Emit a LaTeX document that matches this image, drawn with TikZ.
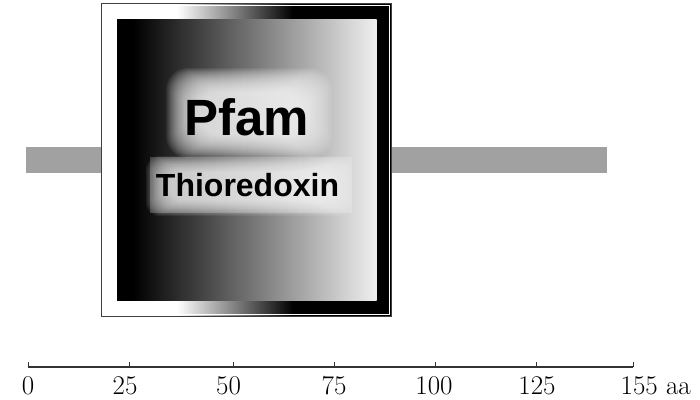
\documentclass[tikz,border=0pt]{standalone}
\usepackage{fontspec}
\newfontfamily\boxfont{Liberation Sans}
\colorlet{nearwhite}{white!94!black}
\colorlet{bargray}{black!37}
\colorlet{axisgray}{black!80}
\pgfdeclarehorizontalshading{frameshade}{100bp}{color(0bp)=(white); color(38bp)=(white); color(58bp)=(black); color(100bp)=(black)}
\pgfdeclarehorizontalshading{innershade}{100bp}{color(0bp)=(black); color(28bp)=(black); color(75bp)=(nearwhite); color(100bp)=(nearwhite)}
\tikzset{
  boxtext/.style={anchor=base, inner sep=0pt, text=black},
  axislabel/.style={anchor=base, inner sep=0pt, font=\fontsize{27}{27}\selectfont},
  tickline/.style={draw=axisgray, line width=1.5pt},
  glowstep/.style={fill=white, opacity=0.065},
}
\begin{document}
\begin{tikzpicture}[x=1pt,y=-1pt]
\useasboundingbox (0,0) rectangle (700,399);
% backbone bar
\fill[bargray] (26,147) rectangle (606.5,173);
% domain box
\shade[shading=frameshade] (101.5,3.5) rectangle (391.5,316.5);
\draw[black!75, line width=1pt] (101.5,3.5) rectangle (391.5,316.5);
\draw[white, line width=0.8pt] (103.2,5.2) rectangle (389.8,314.8);
\shade[shading=innershade] (117,19) rectangle (376.5,300.5);
% glows
\fill[white, opacity=0.2] (150,157) rectangle (352,213);
\foreach \i in {0,...,24} {
  \fill[glowstep, rounded corners=22pt] (166+\i*1.3,68+\i*1.0) rectangle (332-\i*1.3,158-\i*1.0);
}
\foreach \i in {0,...,18} {
  \fill[glowstep, rounded corners=14pt] (146+\i*1.3,156+\i*0.9) rectangle (352-\i*1.3,216-\i*0.9);
}
\node[boxtext, font=\boxfont\bfseries\fontsize{51}{51}\selectfont] (pfam) at (246.7,135) {Pfam};
\node[boxtext, font=\boxfont\bfseries\fontsize{32}{32}\selectfont] (dom) at (247.5,196.7) {Thioredoxin};
% axis
\coordinate (t0) at (28.3,367);
\coordinate (t25) at (129.3,367);
\coordinate (t50) at (233.3,367);
\coordinate (t75) at (334.3,367);
\coordinate (t100) at (435.7,367);
\coordinate (t125) at (536.7,367);
\coordinate (t155) at (633.3,367);
\draw[tickline] (t0) -- (t155);
\foreach \t in {t0,t25,t50,t75,t100,t125,t155} {
  \draw[tickline] (\t) -- ++(0,-5.5);
}
\node[axislabel] (l0) at (28,394.5) {0};
\node[axislabel] (l25) at (125,394.5) {25};
\node[axislabel] (l50) at (228.5,394.5) {50};
\node[axislabel] (l75) at (334,394.5) {75};
\node[axislabel] (l100) at (434,394.5) {100};
\node[axislabel] (l125) at (537,394.5) {125};
\node[axislabel, anchor=base west] (l155) at (620.5,394.5) {155 aa};
\end{tikzpicture}
\end{document}
